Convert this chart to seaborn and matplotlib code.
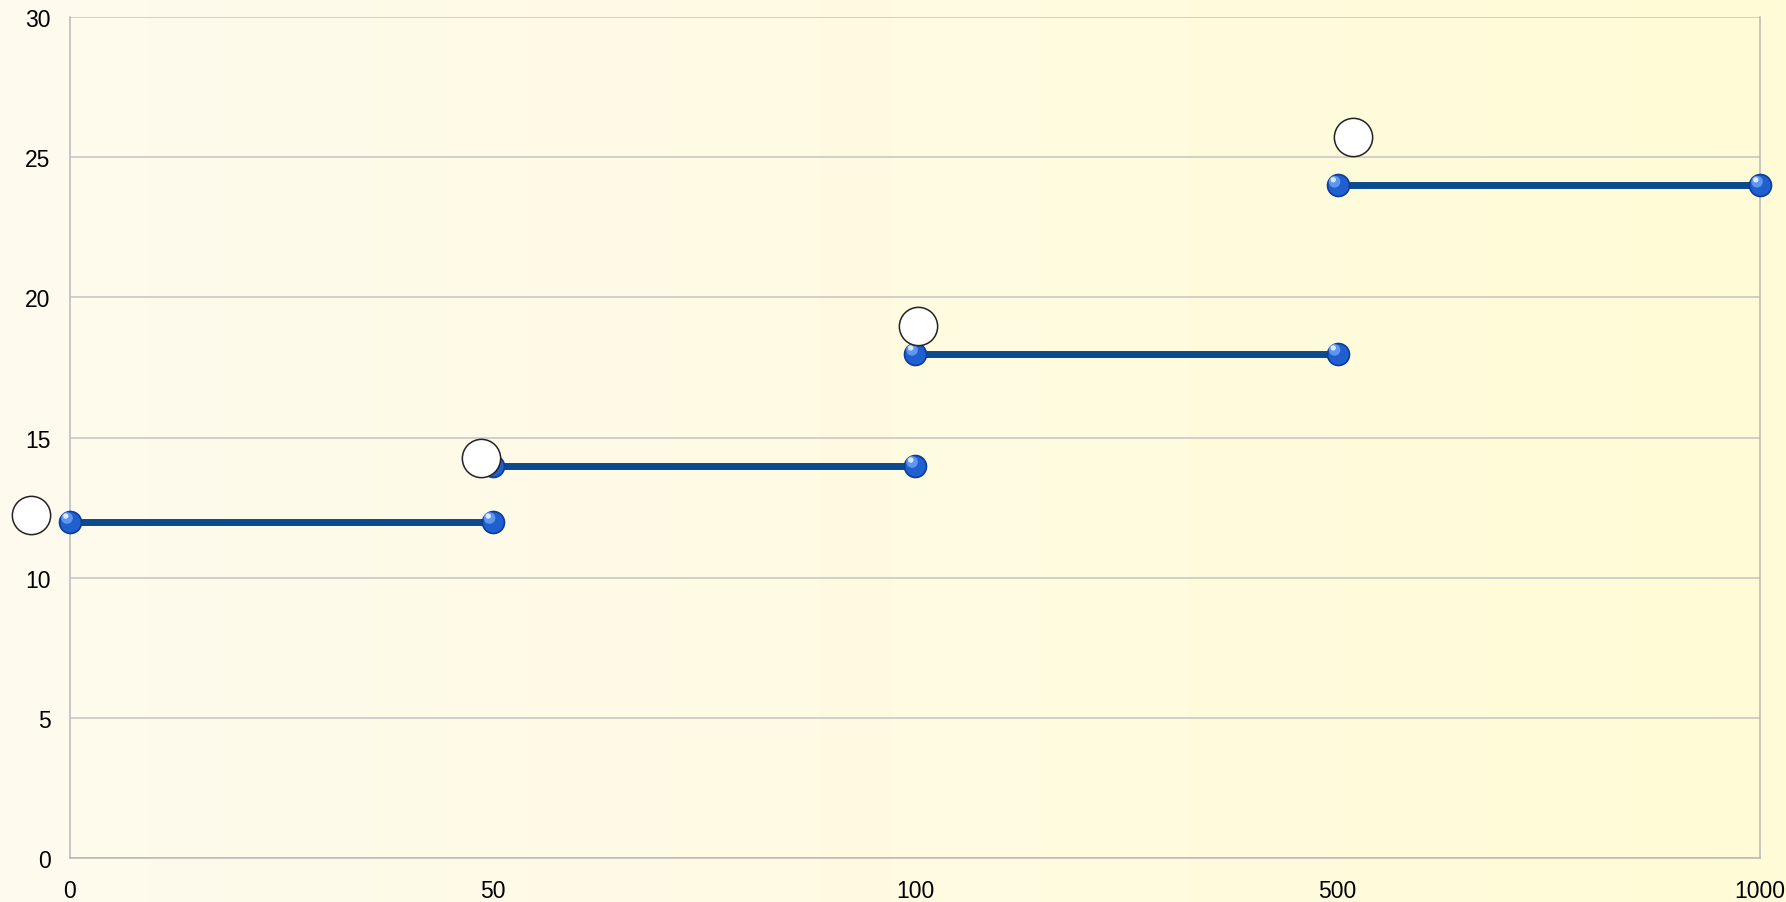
import numpy as np
import pandas as pd
import matplotlib
matplotlib.use("Agg")
import matplotlib.pyplot as plt
import seaborn as sns

# Tier boundaries (category axis) and the value held over each tier
tick_labels = ["0", "50", "100", "500", "1000"]
seg_start = [0, 1, 2, 3]
seg_end = [1, 2, 3, 4]
seg_value = [12, 14, 18, 24]

# Callout bubbles placed near the start of each tier
bubble_x = [-0.093, 0.972, 2.007, 3.037]
bubble_y = [12.25, 14.27, 18.98, 25.73]

sns.set_theme(style="white")
plt.rcParams["font.family"] = ["Liberation Sans", "DejaVu Sans"]

W, H = 1786, 903
fig = plt.figure(figsize=(W / 100, H / 100), dpi=100)

# Soft cream-to-yellow horizontal gradient behind everything
bg = fig.add_axes([0, 0, 1, 1], zorder=-10)
c0 = np.array([254, 250, 238]) / 255
c1 = np.array([255, 252, 214]) / 255
t = np.linspace(0, 1, 512)
grad = (c0[None, :] * (1 - t[:, None]) + c1[None, :] * t[:, None])[None, :, :]
bg.imshow(grad, aspect="auto", extent=[0, 1, 0, 1])
bg.set_axis_off()

ax = fig.add_axes([70 / W, 1 - 859 / H, (1760 - 70) / W, (859 - 18.2) / H])
ax.patch.set_alpha(0)

rows = []
for i, (a, b, v) in enumerate(zip(seg_start, seg_end, seg_value)):
    rows.append({"x": a, "y": v, "seg": i})
    rows.append({"x": b, "y": v, "seg": i})
df = pd.DataFrame(rows)

line_color = "#0b4a8c"
sns.lineplot(data=df, x="x", y="y", hue="seg", palette=[line_color] * 4,
             legend=False, linewidth=5.0, ax=ax, zorder=3, sort=False)

# Glossy sphere markers at every tier end
sns.scatterplot(data=df, x="x", y="y", s=250, color="#1f5fcf",
                edgecolor="#0b3d99", linewidth=1.2, ax=ax, zorder=4, legend=False,
                clip_on=False)
sns.scatterplot(x=df["x"] - 0.007, y=df["y"] + 0.13, s=70, color="#5f97f0",
                edgecolor="none", ax=ax, zorder=5, legend=False, clip_on=False)
sns.scatterplot(x=df["x"] - 0.010, y=df["y"] + 0.2, s=15, color="#dce9ff",
                edgecolor="none", ax=ax, zorder=6, legend=False, clip_on=False)

# Empty callout bubbles
sns.scatterplot(x=bubble_x, y=bubble_y, s=760, color="white", edgecolor="#222222",
                linewidth=1.1, ax=ax, zorder=7, legend=False, clip_on=False)

ax.set_xlim(0, 4)
ax.set_ylim(0, 30)
ax.set_xticks(range(len(tick_labels)))
ax.set_xticklabels(tick_labels)
ax.set_yticks(range(0, 31, 5))
ax.set_xlabel("")
ax.set_ylabel("")

ax.yaxis.grid(True, color="#c4c4c4", linewidth=1.1)
ax.xaxis.grid(False)
for s in ["left", "bottom", "right"]:
    ax.spines[s].set_visible(True)
    ax.spines[s].set_color("#b8b8b8")
    ax.spines[s].set_linewidth(1.1)
ax.spines["top"].set_visible(False)

ax.tick_params(axis="both", which="major", labelsize=16.5, colors="#000000",
               length=8, width=1.1, color="#b8b8b8", direction="out", pad=6)
ax.tick_params(axis="x", pad=7)

fig.savefig("out.png", dpi=100)
